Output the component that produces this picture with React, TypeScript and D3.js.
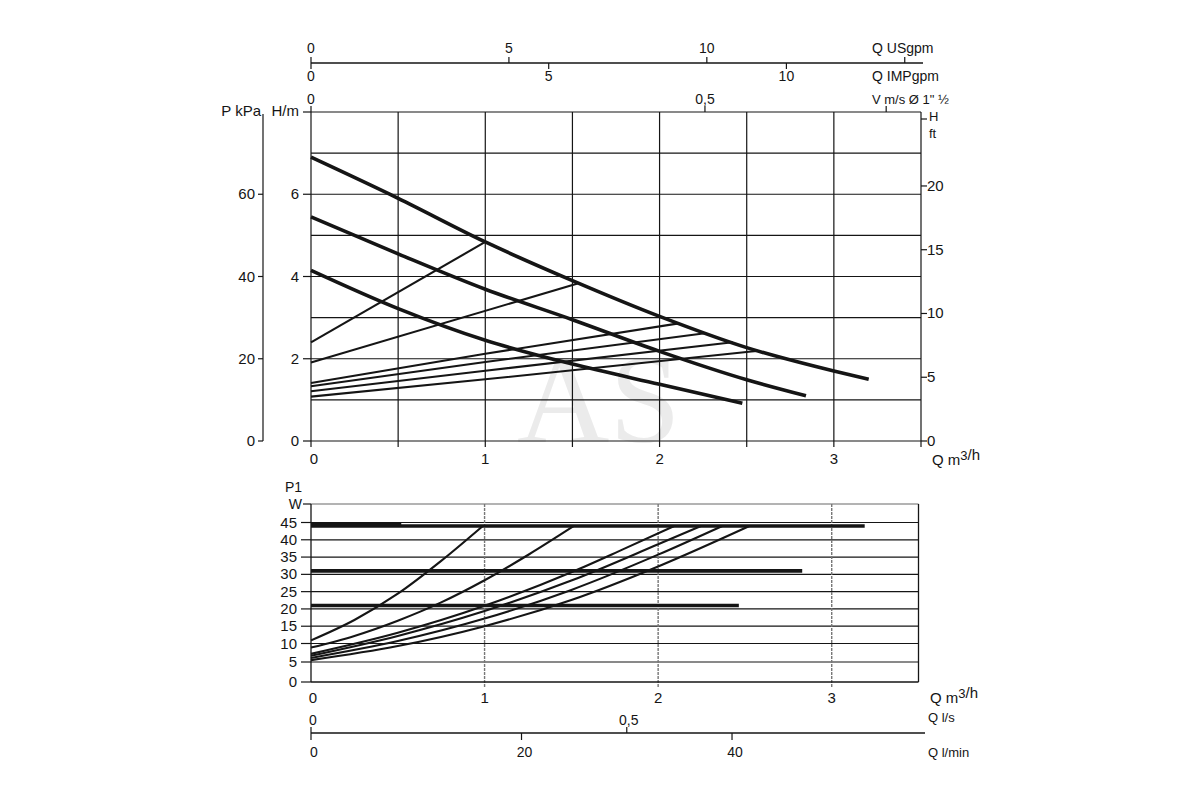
import React from "react";
import * as d3 from "d3";

// ---------- axis ticks ----------
const flowTickValues = [0, 1, 2, 3];
const flowGridValues = [0, 0.5, 1, 1.5, 2, 2.5, 3, 3.5];
const headTickValues = [0, 2, 4, 6];
const headGridValues = [0, 1, 2, 3, 4, 5, 6, 7, 8];
const kpaTickValues = [0, 20, 40, 60];
const ftTickValues = [0, 5, 10, 15, 20];
const usgpmTickValues = [0, 5, 10, 15];
const usgpmTickLabels = ["0", "5", "10", ""];
const impgpmTickValues = [0, 5, 10];
const velocityTickValues = [0, 0.5, 0.73];
const velocityTickLabels = ["0", "0,5", ""];
const powerTickValues = [0, 5, 10, 15, 20, 25, 30, 35, 40, 45];
const powerGridValues = [5, 10, 15, 20, 25, 30, 35, 40, 45];
const bottomFlowGridValues = [1, 2, 3];
const lsTickValues = [0, 0.5];
const lsTickLabels = ["0", "0,5"];
const lminTickValues = [0, 20, 40];

// ---------- pump curves (Q m3/h, H m) ----------
const pumpMaxQ = [0, 0.5, 1, 1.5, 2, 2.5, 3, 3.2];
const pumpMaxH = [6.9, 5.9, 4.84, 3.9, 3.03, 2.27, 1.7, 1.5];
const pumpMidQ = [0, 0.5, 1, 1.5, 2, 2.5, 2.84];
const pumpMidH = [5.45, 4.55, 3.69, 2.95, 2.18, 1.49, 1.1];
const pumpMinQ = [0, 0.5, 1, 1.5, 2, 2.475];
const pumpMinH = [4.15, 3.22, 2.45, 1.87, 1.38, 0.92];

// ---------- control curves (Q m3/h, H m) ----------
const ctrl1Q = [0, 1.0];
const ctrl1H = [2.4, 4.84];
const ctrl2Q = [0, 1.53];
const ctrl2H = [1.91, 3.83];
const ctrl3Q = [0, 1.0, 2.11];
const ctrl3H = [1.41, 2.12, 2.86];
const ctrl4Q = [0, 1.0, 2.26];
const ctrl4H = [1.33, 1.92, 2.62];
const ctrl5Q = [0, 1.0, 2.42];
const ctrl5H = [1.21, 1.71, 2.4];
const ctrl6Q = [0, 1.0, 2.56];
const ctrl6H = [1.08, 1.5, 2.19];

// ---------- power (Q m3/h, P1 W) ----------
const powMaxQ = [0, 3.19];
const powMaxW = [44, 44];
const powMaxShoulderQ = [0, 0.52];
const powMaxShoulderW = [44.4, 44.4];
const powMidQ = [0, 2.83];
const powMidW = [31, 31];
const powMinQ = [0, 2.465];
const powMinW = [21, 21];

const pw1Q = [0, 0.25, 0.5, 0.75, 0.99];
const pw1W = [10.9, 16.8, 24.4, 33.9, 44];
const pw2Q = [0, 0.25, 0.5, 0.75, 1.0, 1.25, 1.515];
const pw2W = [8.9, 12.2, 16.6, 21.9, 28.3, 35.6, 44];
const pw3Q = [0, 0.5, 1.0, 1.5, 1.8, 2.093];
const pw3W = [7.2, 13.1, 20.9, 30.6, 37.3, 44];
const pw4Q = [0, 0.5, 1.0, 1.5, 2.0, 2.247];
const pw4W = [6.7, 12.2, 19.4, 28.2, 38.7, 44];
const pw5Q = [0, 0.5, 1.0, 1.5, 2.0, 2.37];
const pw5W = [6.1, 10.7, 17.2, 25.5, 35.7, 44];
const pw6Q = [0, 0.5, 1.0, 1.5, 2.0, 2.526];
const pw6W = [5.5, 9.3, 15.0, 22.6, 32.3, 44];

// unit conversions for secondary axes
const USGPM_PER_M3H = 4.403;
const IMPGPM_PER_M3H = 3.666;
const MS_PER_M3H = 0.2212;
const LS_PER_M3H = 1 / 3.6;
const LMIN_PER_M3H = 16.667;

const zip = (qs: number[], vs: number[]) => qs.map((q, i) => [q, vs[i]] as [number, number]);

const FONT = "'Liberation Sans', Arial, sans-serif";
const INK = "#151515";

export default function App() {
  // scales
  const xTop = d3.scaleLinear().domain([0, 3.5]).range([311, 921]);
  const yH = d3.scaleLinear().domain([0, 8]).range([441, 112]);
  const yKpa = d3.scaleLinear().domain([0, 80]).range([441, 112]);
  const yFt = d3.scaleLinear().domain([0, 25.8]).range([441, 112]);
  const xUS = d3.scaleLinear().domain([0, 3.5 * USGPM_PER_M3H]).range([311, 921]);
  const xIMP = d3.scaleLinear().domain([0, 3.5 * IMPGPM_PER_M3H]).range([311, 921]);
  const xV = d3.scaleLinear().domain([0, 3.5 * MS_PER_M3H]).range([311, 921]);
  const xBot = d3.scaleLinear().domain([0, 3.5]).range([311, 918.5]);
  const yW = d3.scaleLinear().domain([0, 5, 10, 45, 50]).range([682, 662, 643.5, 522.5, 504]);
  const xLs = d3.scaleLinear().domain([0, 3.5 * LS_PER_M3H]).range([311, 925]);
  const xLmin = d3.scaleLinear().domain([0, 3.5 * LMIN_PER_M3H]).range([311, 925]);

  const headLine = d3
    .line<[number, number]>()
    .x((d) => xTop(d[0]))
    .y((d) => yH(d[1]))
    .curve(d3.curveMonotoneX);
  const powerLine = d3
    .line<[number, number]>()
    .x((d) => xBot(d[0]))
    .y((d) => yW(d[1]))
    .curve(d3.curveMonotoneX);

  const pumpCurves = [zip(pumpMaxQ, pumpMaxH), zip(pumpMidQ, pumpMidH), zip(pumpMinQ, pumpMinH)];
  const ctrlCurves = [
    zip(ctrl1Q, ctrl1H),
    zip(ctrl2Q, ctrl2H),
    zip(ctrl3Q, ctrl3H),
    zip(ctrl4Q, ctrl4H),
    zip(ctrl5Q, ctrl5H),
    zip(ctrl6Q, ctrl6H),
  ];
  const powerFlat = [
    zip(powMaxQ, powMaxW),
    zip(powMaxShoulderQ, powMaxShoulderW),
    zip(powMidQ, powMidW),
    zip(powMinQ, powMinW),
  ];
  const powerCurves = [
    zip(pw1Q, pw1W),
    zip(pw2Q, pw2W),
    zip(pw3Q, pw3W),
    zip(pw4Q, pw4W),
    zip(pw5Q, pw5W),
    zip(pw6Q, pw6W),
  ];

  const txt = { fontFamily: FONT, fill: INK } as const;

  return (
    <svg
      width={1200}
      height={800}
      style={{ position: "absolute", left: 0, top: 0, background: "#fff" }}
    >
      {/* watermark */}
      <text x={517} y={442} fontFamily="'Liberation Serif', 'Times New Roman', serif" fontSize={128} fill="#ebebeb">
        AS
      </text>

      {/* ================= TOP CHART ================= */}
      {/* top secondary axes line (USgpm / IMPgpm) */}
      <line x1={311} x2={923} y1={63} y2={63} stroke={INK} strokeWidth={1.3} />
      {usgpmTickValues.map((v, i) => (
        <g key={"us" + v}>
          <line x1={xUS(v)} x2={xUS(v)} y1={63} y2={57} stroke={INK} strokeWidth={1.2} />
          <text x={xUS(v)} y={53} textAnchor="middle" fontSize={14} {...txt}>
            {usgpmTickLabels[i]}
          </text>
        </g>
      ))}
      {impgpmTickValues.map((v) => (
        <g key={"imp" + v}>
          <line x1={xIMP(v)} x2={xIMP(v)} y1={63} y2={69} stroke={INK} strokeWidth={1.2} />
          <text x={xIMP(v)} y={81} textAnchor="middle" fontSize={14} {...txt}>
            {v}
          </text>
        </g>
      ))}
      <text x={872} y={53} fontSize={14} {...txt}>Q USgpm</text>
      <text x={872} y={81} fontSize={14} {...txt}>Q IMPgpm</text>

      {/* velocity axis on plot top */}
      {velocityTickValues.map((v, i) => (
        <g key={"v" + v}>
          <line x1={xV(v)} x2={xV(v)} y1={112} y2={106} stroke={INK} strokeWidth={1.2} />
          <text x={xV(v)} y={104} textAnchor="middle" fontSize={14} {...txt}>
            {velocityTickLabels[i]}
          </text>
        </g>
      ))}
      <text x={872} y={104} fontSize={13} {...txt}>{"V  m/s Ø 1\" ½"}</text>

      {/* grid */}
      {flowGridValues.map((q) => (
        <line key={"gq" + q} x1={xTop(q)} x2={xTop(q)} y1={yH(8)} y2={yH(0) + 6} stroke={INK} strokeWidth={1.2} />
      ))}
      {headGridValues.map((h) => (
        <line key={"gh" + h} x1={xTop(0)} x2={xTop(3.5)} y1={yH(h)} y2={yH(h)} stroke={INK} strokeWidth={1.2} />
      ))}

      {/* left H/m axis ticks */}
      {headTickValues.map((h) => (
        <g key={"ht" + h}>
          <line x1={303} x2={311} y1={yH(h)} y2={yH(h)} stroke={INK} strokeWidth={1.2} />
          <text x={299} y={yH(h) + 5} textAnchor="end" fontSize={15} {...txt}>
            {h}
          </text>
        </g>
      ))}
      <line x1={303} x2={311} y1={yH(8)} y2={yH(8)} stroke={INK} strokeWidth={1.2} />
      <text x={299} y={116} textAnchor="end" fontSize={15} {...txt}>H/m</text>

      {/* kPa axis */}
      <line x1={263} x2={263} y1={yKpa(79.5)} y2={yKpa(0)} stroke={INK} strokeWidth={1.2} />
      {kpaTickValues.map((p) => (
        <g key={"kp" + p}>
          <line x1={258} x2={263} y1={yKpa(p)} y2={yKpa(p)} stroke={INK} strokeWidth={1.2} />
          <text x={255} y={yKpa(p) + 5} textAnchor="end" fontSize={15} {...txt}>
            {p}
          </text>
        </g>
      ))}
      <text x={261} y={116} textAnchor="end" fontSize={15} {...txt}>P kPa</text>

      {/* right ft axis */}
      {ftTickValues.map((f) => (
        <g key={"ft" + f}>
          <line x1={921} x2={927} y1={yFt(f)} y2={yFt(f)} stroke={INK} strokeWidth={1.2} />
          <text x={927} y={yFt(f) + 5} fontSize={15} {...txt}>
            {f}
          </text>
        </g>
      ))}
      <line x1={921} x2={927} y1={119} y2={119} stroke={INK} strokeWidth={1.2} />
      <text x={929} y={121} fontSize={13} {...txt}>H</text>
      <text x={929} y={138} fontSize={13} {...txt}>ft</text>

      {/* x labels */}
      {flowTickValues.map((q) => (
        <text key={"xl" + q} x={xTop(q) + (q === 0 ? 3 : 0)} y={464} textAnchor="middle" fontSize={15} {...txt}>
          {q}
        </text>
      ))}
      <text x={932} y={465} fontSize={15} {...txt}>
        Q m<tspan dy={-5} fontSize={13}>3</tspan>
        <tspan>/h</tspan>
      </text>

      {/* curves */}
      {ctrlCurves.map((c, i) => (
        <path key={"cc" + i} d={headLine(c) || ""} fill="none" stroke={INK} strokeWidth={2.1} />
      ))}
      {pumpCurves.map((c, i) => (
        <path key={"pc" + i} d={headLine(c) || ""} fill="none" stroke={INK} strokeWidth={3.6} />
      ))}

      {/* ================= BOTTOM CHART ================= */}
      <line x1={xBot(0)} x2={xBot(3.5)} y1={yW(50)} y2={yW(50)} stroke="#9a9a9a" strokeWidth={1.3} />
      {powerGridValues.map((w) => (
        <line key={"gw" + w} x1={xBot(0)} x2={xBot(3.5)} y1={yW(w)} y2={yW(w)} stroke={INK} strokeWidth={1.2} />
      ))}
      {bottomFlowGridValues.map((q) => (
        <line key={"bq" + q} x1={xBot(q)} x2={xBot(q)} y1={yW(50)} y2={yW(0) + 5} stroke="#777" strokeWidth={1.4} strokeDasharray="3 1" />
      ))}
      <line x1={xBot(0)} x2={xBot(0)} y1={yW(50)} y2={yW(0)} stroke={INK} strokeWidth={1.3} />
      <line x1={xBot(3.5)} x2={xBot(3.5)} y1={yW(50)} y2={yW(0)} stroke={INK} strokeWidth={1.3} />
      <line x1={xBot(0)} x2={xBot(3.5)} y1={yW(0)} y2={yW(0)} stroke={INK} strokeWidth={1.3} />

      {powerTickValues.map((w) => (
        <g key={"wt" + w}>
          <line x1={301} x2={311} y1={yW(w)} y2={yW(w)} stroke={INK} strokeWidth={1.2} />
          <text x={297} y={yW(w) + 5} textAnchor="end" fontSize={15} {...txt}>
            {w}
          </text>
        </g>
      ))}
      <line x1={303} x2={311} y1={yW(50)} y2={yW(50)} stroke={INK} strokeWidth={1.2} />
      <text x={302} y={509} textAnchor="end" fontSize={14} {...txt}>W</text>
      <text x={302} y={492} textAnchor="end" fontSize={14} {...txt}>P1</text>

      {flowTickValues.map((q) => (
        <text key={"bx" + q} x={xBot(q) + (q === 0 ? 2 : 0)} y={703} textAnchor="middle" fontSize={15} {...txt}>
          {q}
        </text>
      ))}
      <text x={930} y={703} fontSize={15} {...txt}>
        Q m<tspan dy={-5} fontSize={13}>3</tspan>
        <tspan>/h</tspan>
      </text>

      {powerCurves.map((c, i) => (
        <path key={"pw" + i} d={powerLine(c) || ""} fill="none" stroke={INK} strokeWidth={2.1} />
      ))}
      {powerFlat.map((c, i) => (
        <path key={"pf" + i} d={powerLine(c) || ""} fill="none" stroke={INK} strokeWidth={i === 1 ? 3 : 3.6} />
      ))}

      {/* bottom secondary axes (l/s, l/min) */}
      <line x1={311} x2={925} y1={733} y2={733} stroke={INK} strokeWidth={1.3} />
      {lsTickValues.map((v, i) => (
        <g key={"ls" + v}>
          <line x1={xLs(v)} x2={xLs(v)} y1={733} y2={727} stroke={INK} strokeWidth={1.2} />
          <text x={xLs(v) + 2} y={725} textAnchor="middle" fontSize={14} {...txt}>
            {lsTickLabels[i]}
          </text>
        </g>
      ))}
      {lminTickValues.map((v) => (
        <g key={"lm" + v}>
          <line x1={xLmin(v)} x2={xLmin(v)} y1={733} y2={740} stroke={INK} strokeWidth={1.2} />
          <text x={xLmin(v) + 3} y={757} textAnchor="middle" fontSize={14} {...txt}>
            {v}
          </text>
        </g>
      ))}
      <text x={928} y={722} fontSize={13} {...txt}>Q l/s</text>
      <text x={928} y={757} fontSize={13} {...txt}>Q l/min</text>
    </svg>
  );
}
